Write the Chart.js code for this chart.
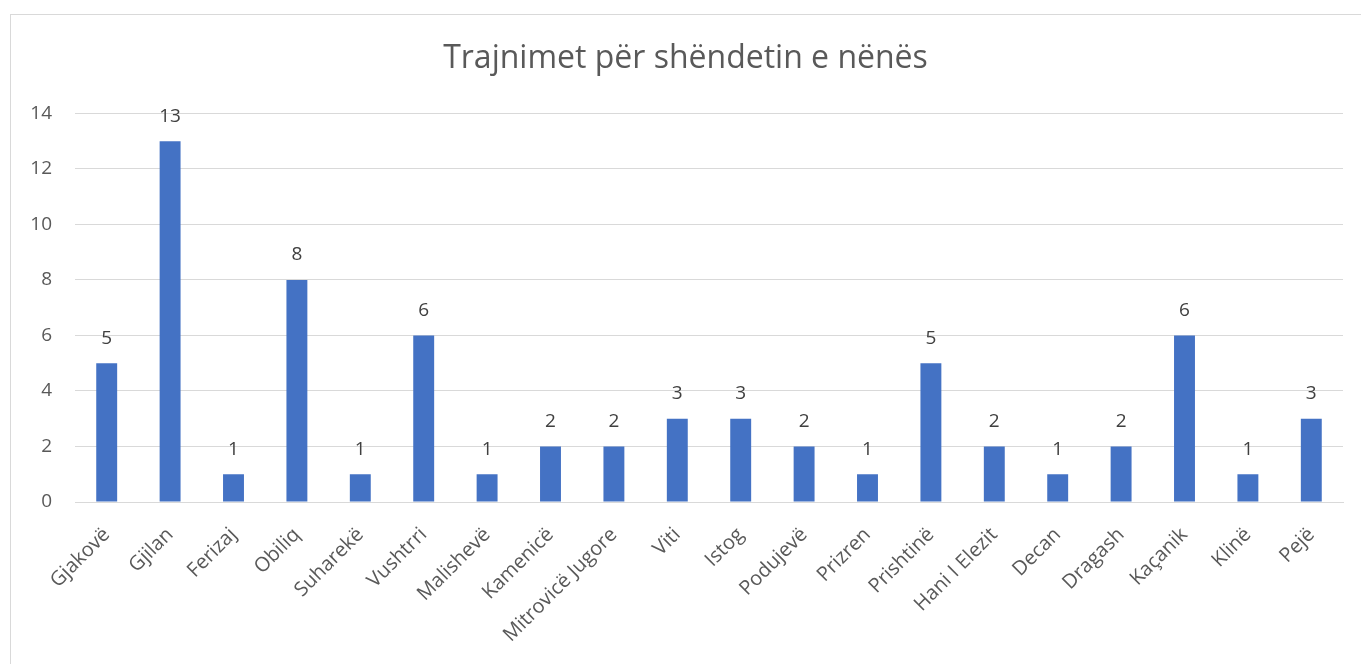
<!DOCTYPE html>
<html lang="sq">
<head>
<meta charset="UTF-8">
<title>Trajnimet për shëndetin e nënës</title>
<script src="https://cdn.jsdelivr.net/npm/chart.js@4.4.0/dist/chart.umd.min.js"></script>
<style>
    body {
        margin: 0;
        background: #ffffff;
        overflow: hidden;
    }

    .frame {
        position: absolute;
        left: 10px;
        top: 14px;
        width: 1400px;
        height: 700px;
        border: 1px solid #d9d9d9;
    }

    #chart {
        position: absolute;
        left: 0;
        top: 0;
    }
</style>
</head>
<body>
<div class="frame"></div>
<canvas id="chart" width="1361" height="664"></canvas>

<script>
const municipalities = ['Gjakovë', 'Gjilan', 'Ferizaj', 'Obiliq', 'Suharekë', 'Vushtrri', 'Malishevë', 'Kamenicë',
    'Mitrovicë Jugore', 'Viti', 'Istog', 'Podujevë', 'Prizren', 'Prishtinë', 'Hani I Elezit', 'Decan',
    'Dragash', 'Kaçanik', 'Klinë', 'Pejë'];
const trainings = [5, 13, 1, 8, 1, 6, 1, 2, 2, 3, 3, 2, 1, 5, 2, 1, 2, 6, 1, 3];
const yTicks = [0, 2, 4, 6, 8, 10, 12, 14];

const fontFamily = "'Open Sans', 'Noto Sans', sans-serif";

// value labels above each bar
const barLabels = {
    id: 'barLabels',
    afterDatasetsDraw(chart) {
        const ctx = chart.ctx;
        const meta = chart.getDatasetMeta(0);
        ctx.save();
        ctx.font = '19px ' + fontFamily;
        ctx.fillStyle = '#404040';
        ctx.textAlign = 'center';
        ctx.textBaseline = 'middle';
        meta.data.forEach(function (bar, i) {
            ctx.fillText(String(trainings[i]), bar.x, bar.y - 25);
        });
        ctx.restore();
    }
};

new Chart(document.getElementById('chart'), {
    type: 'bar',
    data: {
        labels: municipalities,
        datasets: [{
            data: trainings,
            backgroundColor: '#4472c4',
            barPercentage: 0.66,
            categoryPercentage: 0.5
        }]
    },
    options: {
        responsive: false,
        animation: false,
        layout: {
            padding: { left: 28, right: 18, top: 40, bottom: 0 }
        },
        plugins: {
            legend: { display: false },
            tooltip: { enabled: false },
            title: {
                display: true,
                text: 'Trajnimet për shëndetin e nënës',
                color: '#595959',
                font: { family: fontFamily, size: 32, weight: 'normal' },
                padding: { top: 0, bottom: 35 }
            }
        },
        scales: {
            x: {
                grid: { display: false, drawTicks: false },
                border: { color: '#d9d9d9', width: 1 },
                ticks: {
                    color: '#595959',
                    font: { family: fontFamily, size: 20 },
                    minRotation: 45,
                    maxRotation: 45,
                    autoSkip: false,
                    padding: 21
                },
                afterFit(axis) { axis.height = 162; }
            },
            y: {
                min: 0,
                max: 14,
                afterBuildTicks(axis) { axis.ticks = yTicks.map(v => ({ value: v })); },
                grid: { color: '#d9d9d9', drawTicks: false },
                border: { display: false },
                ticks: {
                    color: '#595959',
                    font: { family: fontFamily, size: 19 },
                    padding: 23
                },
                afterFit(axis) { axis.width = 47; }
            }
        }
    },
    plugins: [barLabels]
});
</script>
</body>
</html>
